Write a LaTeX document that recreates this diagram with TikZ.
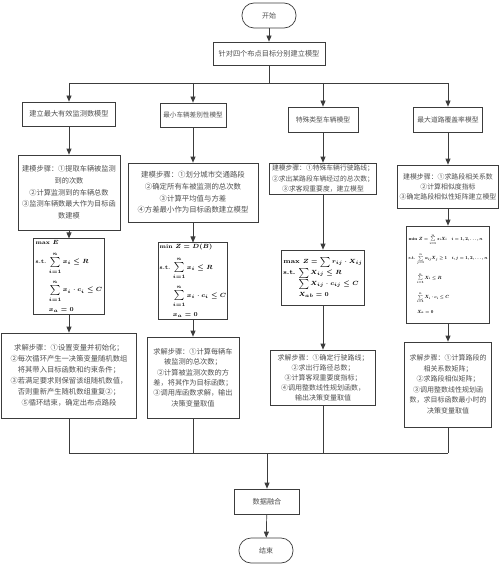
\documentclass[tikz,border=0pt]{standalone}
\usepackage{fontspec}
\usepackage{graphicx}
\newfontfamily\cjk{Noto Sans CJK SC}
\usetikzlibrary{arrows.meta,positioning,calc}
\definecolor{LineGray}{RGB}{60,60,60}
\definecolor{TextGray}{RGB}{80,80,80}
\tikzset{
  terminal/.style={draw=LineGray,line width=0.7pt,rounded corners=12pt,
    minimum width=54,minimum height=25,text=TextGray,font=\cjk\fontsize{7}{9}\selectfont},
  stepbox/.style={draw=LineGray,line width=0.7pt,align=center,inner sep=2pt,
    text=TextGray,font=\cjk\fontsize{7.2}{11}\selectfont},
  formula/.style={draw=LineGray,line width=0.7pt,align=left,inner sep=2pt,
    font=\fontsize{5.6}{7}\selectfont\bfseries\boldmath},
  arrow/.style={-{Triangle[length=6pt,width=5pt]},line width=0.7pt,LineGray},
  link/.style={line width=0.7pt,LineGray}
}

\begin{document}
\begin{tikzpicture}[x=1pt,y=-1pt]
  \useasboundingbox (0,0) rectangle (500,567);

  % start and common modelling step
  \node[terminal] (start) at (269,15.5) {开始};
  \node[stepbox,minimum width=112,minimum height=23] (top) at (269,53.5) {针对四个布点目标分别建立模型};
  \coordinate (split) at (269,83);

  % four models
  \node[stepbox,minimum width=93,minimum height=24] (m1) at (69,114) {建立最大有效监测数模型};
  \node[stepbox,minimum width=66,minimum height=24,font=\cjk\fontsize{6.6}{9}\selectfont] (m2) at (193,115) {最小车辆差别性模型};
  \node[stepbox,minimum width=70,minimum height=25,font=\cjk\fontsize{6.8}{9}\selectfont] (m3) at (323,119.5) {特殊类型车辆模型};
  \node[stepbox,minimum width=69,minimum height=25,font=\cjk\fontsize{6.8}{9}\selectfont] (m4) at (448,119.5) {最大道路覆盖率模型};

  % modelling steps
  \node[stepbox,minimum width=102,minimum height=75,font=\cjk\fontsize{7.2}{11.7}\selectfont] (b1) at (69,192.5)
    {建模步骤：①提取车辆被监测\\到的次数\\②计算监测到的车辆总数\\③监测车辆数最大作为目标函\\数建模};
  \node[stepbox,minimum width=130,minimum height=59,font=\cjk\fontsize{7.4}{11.7}\selectfont] (b2) at (193,192.5)
    {建模步骤：①划分城市交通路段\\②确定所有车被监测的总次数\\③计算平均值与方差\\④方差最小作为目标函数建立模型};
  \node[stepbox,minimum width=107,minimum height=31,inner sep=1pt,font=\cjk\fontsize{6.8}{10.5}\selectfont] (b3) at (323,178.5)
    {建模步骤：①特殊车辆行驶路线；\\②求出某路段车辆经过的总次数；\\③求客观重要度，建立模型};
  \node[stepbox,minimum width=100,minimum height=43,font=\cjk\fontsize{6.9}{10}\selectfont] (b4) at (448,186.5)
    {建模步骤：①求路段相关系数\\②计算相似度指标\\③确定路段相似性矩阵建立模型};

  % objective functions and constraints
  \node[formula,minimum width=45,minimum height=69] (f1) at (69,276.5)
    {max $E$\\[6pt]
     s.t.\ $\sum\limits_{i=1}^{n}x_i\le R$\\[5pt]
     \phantom{s.t.\ }$\sum\limits_{i=1}^{n}x_i\cdot c_i\le C$\\[4pt]
     \phantom{s.t.\ }$x_a=0$};
  \node[formula,minimum width=41,minimum height=66,inner sep=1.5pt] (f2) at (193,281)
    {min $Z=D(B)$\\[6pt]
     s.t.\ $\sum\limits_{i=1}^{n}x_i\le R$\\[5pt]
     \phantom{s.t.\ }$\sum\limits_{i=1}^{n}x_i\cdot c_i\le C$\\[4pt]
     \phantom{s.t.\ }$x_a=0$};
  \node[formula,minimum width=57,minimum height=55,font=\fontsize{6.4}{11}\selectfont\bfseries\boldmath] (f3) at (323,277.5)
    {max $Z=\sum r_{ij}\cdot X_{ij}$\\
     s.t.\ $\sum X_{ij}\le R$\\
     \phantom{s.t.\ }$\sum X_{ij}\cdot c_{ij}\le C$\\
     \phantom{s.t.\ }$X_{ab}=0$};
  \node[formula,minimum width=83,minimum height=97,inner sep=1.5pt] (f4) at (448,274.5)
    {\resizebox{79pt}{!}{\normalsize\bfseries\boldmath\begin{tabular}{@{}l@{}}
     min $Z=\sum\limits_{i=1}^{n}s_iX_i\quad i=1,2,\ldots,n$\\[26pt]
     s.t.\ $\sum\limits_{j=1}^{n}a_{ij}X_j\ge 1\quad i,j=1,2,\ldots,n$\\[26pt]
     \phantom{s.t.\ }$\sum\limits_{i=1}^{n}X_i\le R$\\[26pt]
     \phantom{s.t.\ }$\sum\limits_{i=1}^{n}X_i\cdot c_i\le C$\\[20pt]
     \phantom{s.t.\ }$X_a=0$
     \end{tabular}}};

  % solving steps
  \node[stepbox,minimum width=135,minimum height=85,font=\cjk\fontsize{7.3}{10.9}\selectfont] (s1) at (69,375.5)
    {求解步骤：①设置变量并初始化；\\②每次循环产生一决策变量随机数组\\将其带入目标函数和约束条件；\\③若满足要求则保留该组随机数值，\\否则重新产生随机数组重复②；\\⑤循环结束，确定出布点路段};
  \node[stepbox,minimum width=92,minimum height=81,font=\cjk\fontsize{7.2}{10.4}\selectfont] (s2) at (193,377.5)
    {求解步骤：①计算每辆车\\被监测的总次数；\\②计算被监测次数的方\\差，将其作为目标函数；\\③调用库函数求解，输出\\决策变量取值};
  \node[stepbox,minimum width=105,minimum height=55,font=\cjk\fontsize{7}{10}\selectfont] (s3) at (323,377.5)
    {求解步骤：①确定行驶路线；\\②求出行路径总数；\\③计算客观重要度指标；\\④调用整数线性规划函数，\\输出决策变量取值};
  \node[stepbox,minimum width=87,minimum height=85,font=\cjk\fontsize{7}{10.5}\selectfont] (s4) at (448,384.5)
    {求解步骤：①计算路段的\\相关系数矩阵；\\②求路段相似矩阵；\\③调用整数线性规划函\\数，求目标函数最小时的\\决策变量取值};

  % fusion and end
  \coordinate (merge) at (267,453);
  \node[stepbox,minimum width=65,minimum height=25] (fuse) at (267,501.5) {数据融合};
  \node[terminal] (stop) at (266,550.5) {结束};

  % top part
  \draw[arrow] (start) -- (top);
  \draw[link] (top) -- (split);
  \draw[link] (split -| m1) -- (split -| m4);
  \draw[arrow] (split -| m1) -- (m1);
  \draw[arrow] (split -| m2) -- (m2);
  \draw[arrow] (split -| m3) -- (m3);
  \draw[arrow] (split -| m4) -- (m4);

  % each column
  \draw[arrow] (m1) -- (b1);
  \draw[arrow] (b1) -- (f1);
  \draw[arrow] (f1) -- (s1);
  \draw[arrow] (m2) -- (b2);
  \draw[arrow] (b2) -- (f2);
  \draw[arrow] (f2) -- (s2);
  \draw[arrow] (m3) -- (b3);
  \draw[arrow] (b3) -- (f3);
  \draw[arrow] (f3) -- (s3);
  \draw[arrow] (m4) -- (b4);
  \draw[arrow] (b4) -- (f4);
  \draw[arrow] (f4) -- (s4);

  % bottom part
  \draw[link] (s1) -- (s1 |- merge);
  \draw[link] (s2) -- (s2 |- merge);
  \draw[link] (s3) -- (s3 |- merge);
  \draw[link] (s4) -- (s4 |- merge);
  \draw[link] (s1 |- merge) -- (s4 |- merge);
  \draw[arrow] (merge) -- (fuse);
  \draw[arrow] (fuse) -- (stop);
\end{tikzpicture}
\end{document}
